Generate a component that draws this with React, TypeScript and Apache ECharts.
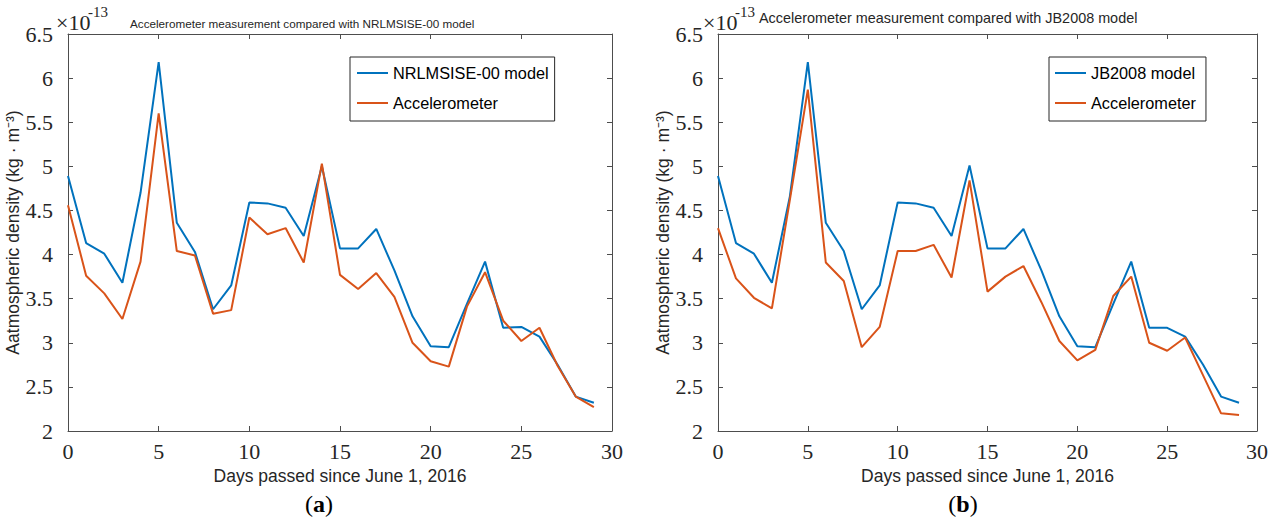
import React, { useEffect, useRef } from "react";
import * as echarts from "echarts";

const days = [0, 1, 2, 3, 4, 5, 6, 7, 8, 9, 10, 11, 12, 13, 14, 15, 16, 17, 18, 19, 20, 21, 22, 23, 24, 25, 26, 27, 28, 29];

const nrlmsise = [4.89, 4.13, 4.01, 3.68, 4.70, 6.18, 4.36, 4.03, 3.38, 3.65, 4.59, 4.58, 4.53, 4.21, 5.00, 4.07, 4.07, 4.29, 3.82, 3.30, 2.96, 2.95, 3.44, 3.92, 3.17, 3.18, 3.07, 2.75, 2.39, 2.32];
const accelA = [4.56, 3.76, 3.56, 3.27, 3.92, 5.60, 4.04, 3.99, 3.33, 3.37, 4.42, 4.23, 4.30, 3.91, 5.03, 3.77, 3.61, 3.79, 3.52, 3.00, 2.79, 2.73, 3.41, 3.80, 3.25, 3.02, 3.17, 2.74, 2.39, 2.27];

const jb2008 = [4.89, 4.13, 4.01, 3.68, 4.66, 6.18, 4.36, 4.04, 3.38, 3.65, 4.59, 4.58, 4.53, 4.21, 5.01, 4.07, 4.07, 4.29, 3.82, 3.30, 2.96, 2.95, 3.44, 3.92, 3.17, 3.17, 3.07, 2.75, 2.39, 2.32];
const accelB = [4.30, 3.73, 3.51, 3.39, 4.62, 5.87, 3.91, 3.70, 2.95, 3.18, 4.04, 4.04, 4.11, 3.74, 4.84, 3.58, 3.75, 3.87, 3.46, 3.02, 2.80, 2.92, 3.53, 3.75, 3.00, 2.91, 3.06, 2.63, 2.20, 2.18];

const xTicks = { min: 0, max: 30, interval: 5 };
const yTicks = { min: 2, max: 6.5, interval: 0.5 };

const BLUE = "#0072BD";
const ORANGE = "#D95319";
const AXIS = "#4d4d4d";
const TXT = "#262626";
const SANS = "'Liberation Sans', Arial, sans-serif";
const SERIF = "'Liberation Serif', 'Times New Roman', serif";

const pairs = (ys: number[]) => days.map((d, i) => [d, ys[i]]);

function xAxes(grid: number) {
  const base = {
    gridIndex: grid,
    type: "value" as const,
    ...xTicks,
    splitLine: { show: false },
    axisLine: { show: true, onZero: false, lineStyle: { color: AXIS, width: 1 } },
    axisTick: { show: true, inside: true, length: 5, lineStyle: { color: AXIS } },
  };
  return [
    {
      ...base,
      position: "bottom",
      axisLabel: { fontFamily: SERIF, fontSize: 22, color: TXT, margin: 9, showMinLabel: true, showMaxLabel: true },
      name: "Days passed since June 1, 2016",
      nameLocation: "middle",
      nameGap: 23,
      nameTextStyle: { fontFamily: SANS, fontSize: 17.5, color: TXT, verticalAlign: "top" },
    },
    { ...base, position: "top", axisLabel: { show: false } },
  ];
}

function yAxes(grid: number) {
  const base = {
    gridIndex: grid,
    type: "value" as const,
    ...yTicks,
    splitLine: { show: false },
    axisLine: { show: true, onZero: false, lineStyle: { color: AXIS, width: 1 } },
    axisTick: { show: true, inside: true, length: 5, lineStyle: { color: AXIS } },
  };
  return [
    {
      ...base,
      position: "left",
      axisLabel: { fontFamily: SERIF, fontSize: 22, color: TXT, margin: 15, showMinLabel: true, showMaxLabel: true },
      name: "Aatmospheric density (kg · m⁻³)",
      nameLocation: "middle",
      nameGap: 43,
      nameTextStyle: { fontFamily: SANS, fontSize: 17.5, color: TXT },
    },
    { ...base, position: "right", axisLabel: { show: false } },
  ];
}

function line(name: string, ys: number[], color: string, grid: number) {
  return {
    type: "line",
    name,
    data: pairs(ys),
    xAxisIndex: grid * 2,
    yAxisIndex: grid * 2,
    showSymbol: false,
    symbol: "none",
    lineStyle: { color, width: 2 },
    itemStyle: { color },
  };
}

function legend(left: number, names: string[], padding: number[]) {
  return {
    left,
    top: 57,
    orient: "vertical",
    data: names,
    icon: "rect",
    itemWidth: 31,
    itemHeight: 2,
    itemGap: 10,
    backgroundColor: "#fff",
    borderColor: TXT,
    borderWidth: 1,
    padding,
    selectedMode: false,
    textStyle: { fontFamily: SANS, fontSize: 16.3, color: "#000", lineHeight: 20 },
  };
}

function times10(x: number) {
  return [
    { type: "text", left: x, top: 11, style: { text: "×10", font: `22px ${SERIF}`, fill: TXT } },
    { type: "text", left: x + 32, top: 4, style: { text: "-13", font: `15px ${SERIF}`, fill: TXT } },
  ];
}

function caption(cx: number, letter: string) {
  return {
    type: "text",
    x: cx,
    y: 504,
    style: {
      text: `{p|(}{b|${letter}}{p|)}`,
      align: "center",
      verticalAlign: "middle",
      rich: {
        p: { fontFamily: SERIF, fontSize: 24, fill: "#000" },
        b: { fontFamily: SERIF, fontSize: 24, fontWeight: "bold", fill: "#000" },
      },
    },
  };
}

export default function App() {
  const ref = useRef<HTMLDivElement>(null);
  useEffect(() => {
    if (!ref.current) return;
    const chart = echarts.init(ref.current, undefined, { renderer: "svg" });
    chart.setOption({
      animation: false,
      backgroundColor: "#fff",
      grid: [
        { left: 68, top: 34, width: 544, height: 397 },
        { left: 718, top: 34, width: 539, height: 397 },
      ],
      xAxis: [...xAxes(0), ...xAxes(1)],
      yAxis: [...yAxes(0), ...yAxes(1)],
      legend: [
        legend(350, ["NRLMSISE-00 model", "Accelerometer"], [6, 6, 8, 7]),
        legend(1049, ["JB2008 model", "Accelerometer"], [6, 10, 8, 6]),
      ],
      series: [
        line("NRLMSISE-00 model", nrlmsise, BLUE, 0),
        line("Accelerometer", accelA, ORANGE, 0),
        line("JB2008 model", jb2008, BLUE, 1),
        line("Accelerometer", accelB, ORANGE, 1),
      ],
      graphic: [
        ...times10(56),
        ...times10(703),
        {
          type: "text",
          left: 130,
          top: 17,
          style: { text: "Accelerometer measurement compared with NRLMSISE-00 model", font: `11.7px ${SANS}`, fill: TXT },
        },
        {
          type: "text",
          left: 759,
          top: 11,
          style: { text: "Accelerometer measurement compared with JB2008 model", font: `14.4px ${SANS}`, fill: TXT },
        },
        caption(319, "a"),
        caption(963, "b"),
      ],
    });
    return () => chart.dispose();
  }, []);
  return <div ref={ref} style={{ position: "fixed", left: 0, top: 0, width: 1277, height: 520 }} />;
}
